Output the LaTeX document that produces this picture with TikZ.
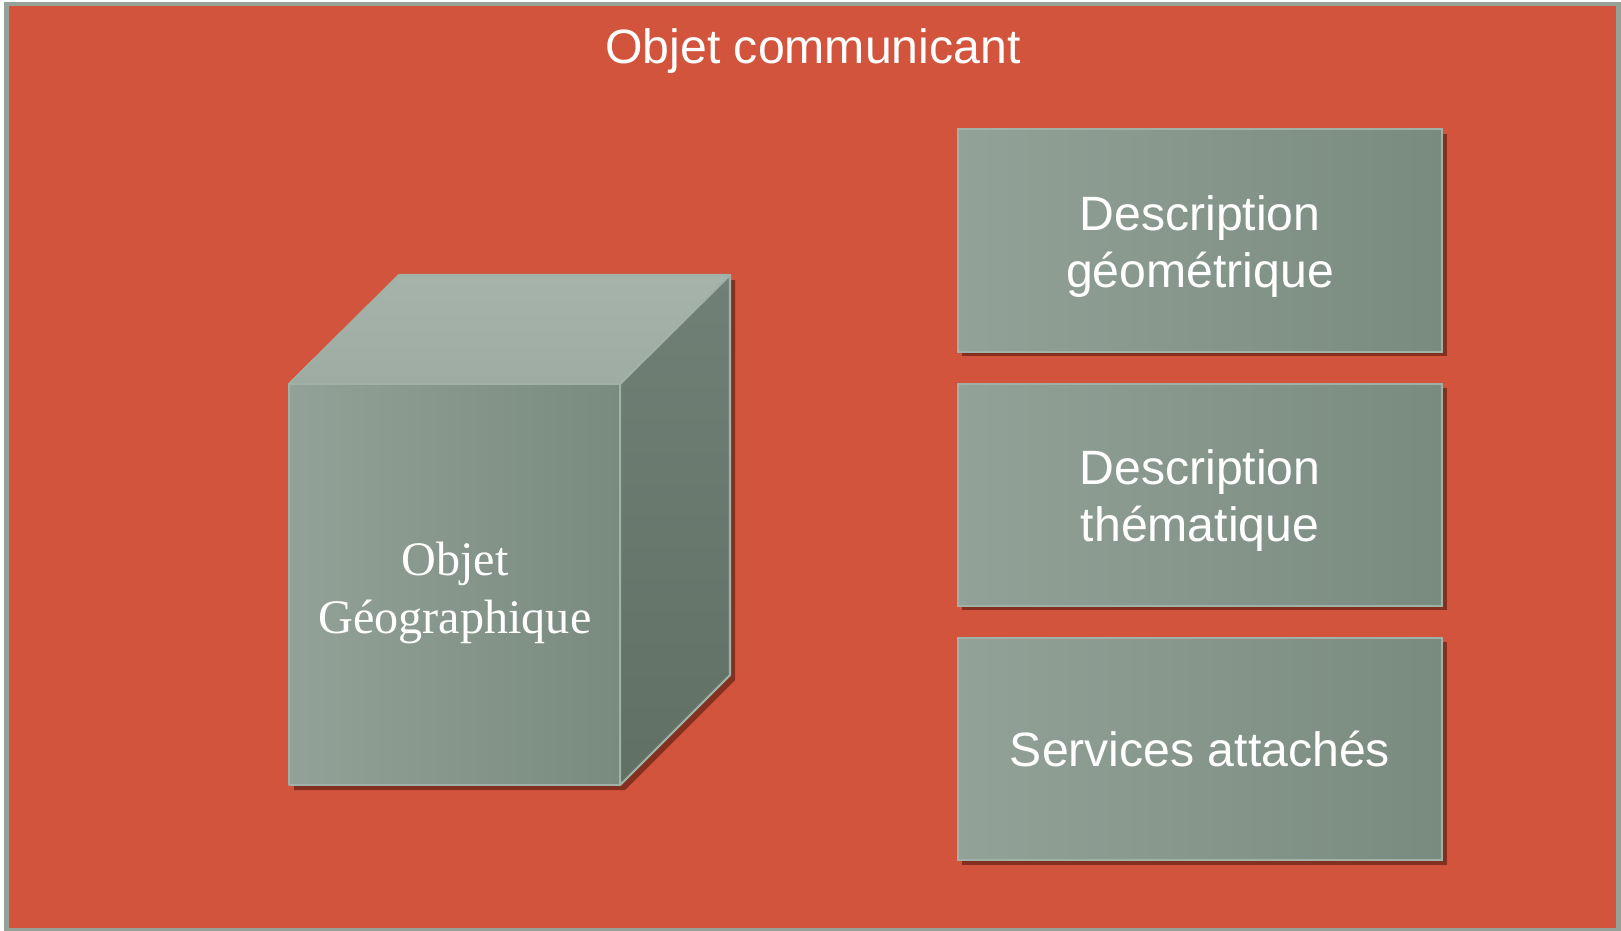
\documentclass[tikz,border=0pt]{standalone}
\usepackage{fontspec}
\setmainfont{Liberation Serif}
\setsansfont{Liberation Sans}
\usetikzlibrary{positioning,shadows}

\definecolor{fondrouge}{RGB}{210,84,60}
\definecolor{cadregris}{RGB}{150,162,152}
\definecolor{grisclair}{RGB}{147,162,152}
\definecolor{grisfonce}{RGB}{121,138,127}
\definecolor{facehaut}{RGB}{166,179,171}
\definecolor{facehautb}{RGB}{158,172,163}
\definecolor{facedroite}{RGB}{112,128,118}
\definecolor{facedroiteb}{RGB}{96,112,101}
\definecolor{bordgris}{RGB}{162,177,167}
\definecolor{ombre}{RGB}{80,25,15}

\newcommand{\hautligne}{\rule{0pt}{0.465cm}}

\begin{document}
\begin{tikzpicture}[x=0.01cm,y=-0.01cm,
	texte/.style={text=white,font=\sffamily\fontsize{13.7}{16.3}\selectfont,align=center},
	bloc/.style={texte,draw=bordgris,line width=0.6pt,left color=grisclair,right color=grisfonce,
		minimum width=4.84cm,minimum height=2.22cm,inner sep=0pt,
		drop shadow={shadow xshift=0.045cm,shadow yshift=-0.045cm,fill=ombre,opacity=0.6}},
	face/.style={draw=bordgris,line width=0.6pt,line join=round},
	cubetexte/.style={text=white,font=\fontsize{13.7}{16.6}\selectfont,align=center,inner sep=0pt}]

	\useasboundingbox (0,0) rectangle (1621,930);

	% frame
	\node[fill=fondrouge,draw=cadregris,line width=1.2pt,inner sep=0pt,
		minimum width=16.11cm,minimum height=9.26cm] (cadre) at (812.5,467) {};
	\node[texte,anchor=base,inner sep=0pt] (titre) at (813,63) {Objet communicant};

	% cube points
	\coordinate (A) at (289,384);
	\coordinate (B) at (620,384);
	\coordinate (C) at (620,785);
	\coordinate (D) at (289,785);
	\coordinate (E) at (399,275);
	\coordinate (F) at (730,275);
	\coordinate (G) at (730,675);

	% cube shadow
	\fill[ombre,opacity=0.6] ([shift={(5,5)}]A) -- ([shift={(5,5)}]E) -- ([shift={(5,5)}]F)
		-- ([shift={(5,5)}]G) -- ([shift={(5,5)}]C) -- ([shift={(5,5)}]D) -- cycle;

	% cube faces
	\filldraw[face,top color=facehaut,bottom color=facehautb] (A) -- (E) -- (F) -- (B) -- cycle;
	\filldraw[face,top color=facedroite,bottom color=facedroiteb] (B) -- (F) -- (G) -- (C) -- cycle;
	\filldraw[face,left color=grisclair,right color=grisfonce] (A) -- (B) -- (C) -- (D) -- cycle;
	\node[cubetexte] (objgeo) at (455,593) {Objet\\Géographique};

	% descriptions
	\node[bloc] (geom) at (1200,240.5) {\hautligne Description\\géométrique};
	\node[bloc,below=0.3cm of geom] (them) {\hautligne Description\\thématique};
	\node[bloc,below=0.3cm of them] (serv) {Services attachés};

\end{tikzpicture}
\end{document}
